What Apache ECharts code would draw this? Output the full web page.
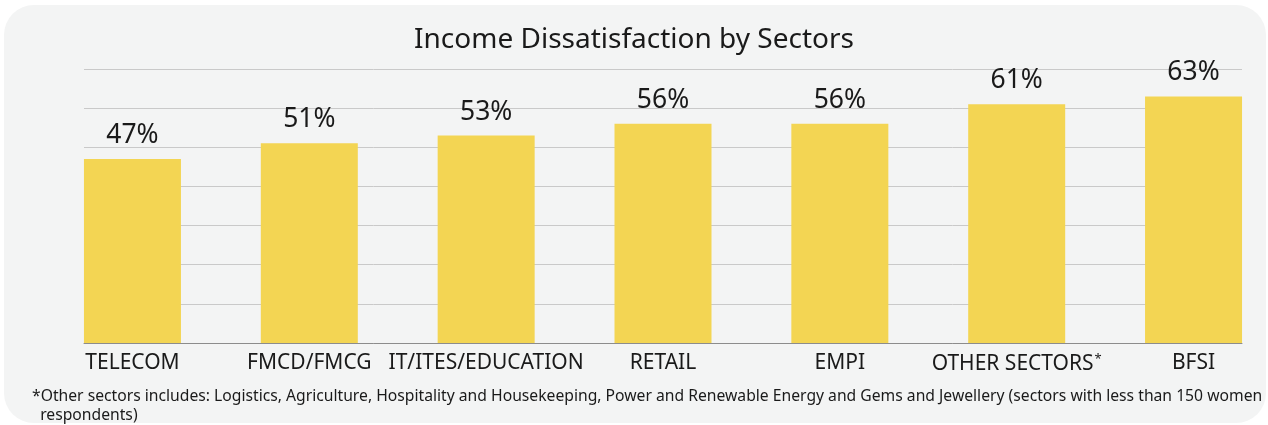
<!DOCTYPE html>
<html>
<head>
<meta charset="utf-8">
<script src="https://cdn.jsdelivr.net/npm/echarts@6/dist/echarts.min.js"></script>
<style>
  html, body { margin: 0; padding: 0; background: #fff; }
  #chart { width: 1268px; height: 425px; }
</style>
</head>
<body>
<div id="chart"></div>
<script>
// income dissatisfaction by sector - simple bar chart
const sectors = ['TELECOM', 'FMCD/FMCG', 'IT/ITES/EDUCATION', 'RETAIL', 'EMPI', 'OTHER SECTORS', 'BFSI'];
const dissatisfied = [47, 51, 53, 56, 56, 61, 63];
const footnote = '*Other sectors includes: Logistics, Agriculture, Hospitality and Housekeeping, Power and Renewable Energy and Gems and Jewellery (sectors with less than 150 women\n  respondents)';

const myChart = echarts.init(document.getElementById('chart'));
const font = 'Noto Sans';

// bar slots are 177px apart, bars 97px wide; the outer bars touch the ends of the gridlines
const pad = 48.5 / 177;
const positions = sectors.map((s, i) => i);

const option = {
  backgroundColor: '#ffffff',
  graphic: [
    {
      type: 'rect',
      z: -10,
      shape: { x: 4, y: 5, width: 1262, height: 418, r: 30 },
      style: { fill: '#f3f4f4' }
    }
  ],
  title: [
    {
      text: 'Income Dissatisfaction by Sectors',
      left: 'center',
      top: 21,
      textStyle: { fontFamily: font, fontSize: 28, fontWeight: 'normal', color: '#1a1a1a' }
    },
    {
      text: footnote,
      left: 27,
      top: 382,
      textStyle: { fontFamily: font, fontSize: 15.7, fontWeight: 'normal', color: '#1a1a1a', lineHeight: 19 }
    }
  ],
  grid: { left: 84, top: 69, width: 1158, height: 274, outerBoundsMode: 'none' },
  xAxis: {
    type: 'value',
    min: -pad,
    max: sectors.length - 1 + pad,
    axisLine: { show: true, onZero: false, lineStyle: { color: '#8c8c8c', width: 1 } },
    axisTick: { show: false },
    splitLine: { show: false },
    axisLabel: {
      customValues: positions,
      margin: 10,
      fontFamily: font,
      fontSize: 21,
      color: '#1a1a1a',
      formatter: v => {
        const name = sectors[Math.round(v)];
        return name === 'OTHER SECTORS' ? name + '{sup|*}' : name;
      },
      rich: {
        sup: { fontFamily: font, fontSize: 13, color: '#1a1a1a', verticalAlign: 'top', padding: [0, 0, 10, 1] }
      }
    }
  },
  yAxis: {
    type: 'value',
    min: 0,
    max: 70,
    interval: 10,
    axisLine: { show: false },
    axisTick: { show: false },
    axisLabel: { show: false },
    splitLine: { lineStyle: { color: '#c9c9c9', width: 1 } }
  },
  series: [
    {
      type: 'bar',
      data: dissatisfied.map((v, i) => [positions[i], v]),
      barWidth: 97,
      itemStyle: { color: '#f3d553' },
      label: {
        show: true,
        position: 'top',
        distance: 10,
        formatter: p => p.value[1] + '%',
        fontFamily: font,
        fontSize: 26.5,
        color: '#1a1a1a'
      },
      z: 3
    }
  ]
};

myChart.setOption(option);
</script>
</body>
</html>
